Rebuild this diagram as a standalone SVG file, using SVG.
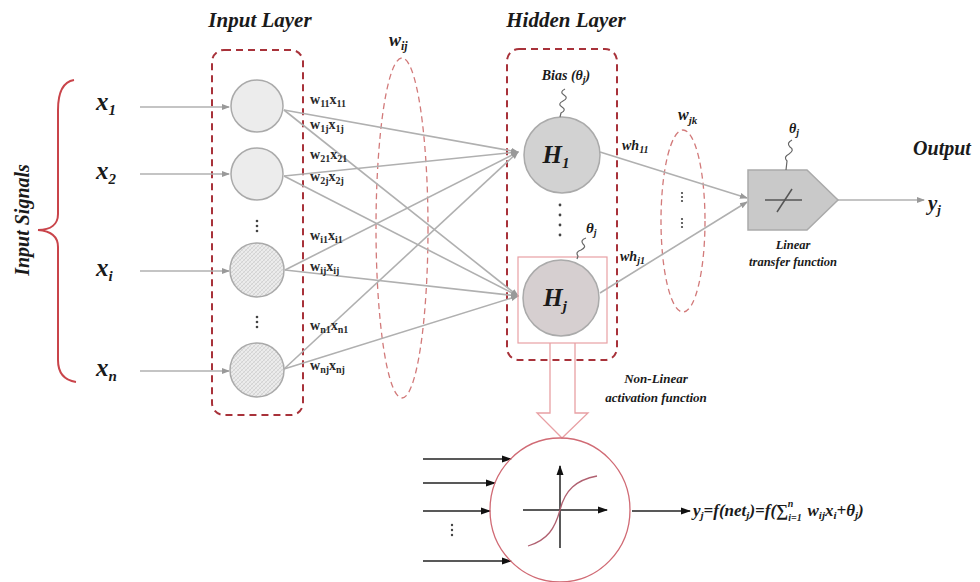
<svg xmlns="http://www.w3.org/2000/svg" width="980" height="582" viewBox="0 0 980 582">
<style>
.t{font-family:"Liberation Serif","Times New Roman",Times,"DejaVu Serif",serif;font-weight:bold;font-style:italic;fill:#1a1a1a}
.w{font-family:"Liberation Serif","Times New Roman",Times,"DejaVu Serif",serif;font-weight:bold;fill:#2a2a2a;font-size:14px}
.box{fill:none;stroke:#a8323a;stroke-width:2;stroke-dasharray:7,5}
.ell{fill:none;stroke:#d27a7a;stroke-width:1.3;stroke-dasharray:6,4}
.wire{stroke:#b0b0b0;stroke-width:1.6;fill:none}
.blk{stroke:#222;stroke-width:1.5;fill:none}
.sq{fill:none;stroke:#666;stroke-width:1.2}
.dot{fill:#444}
</style>
<defs>
<marker id="ag" markerWidth="8" markerHeight="8" refX="7" refY="4" orient="auto" markerUnits="userSpaceOnUse"><path d="M0,1 L8,4 L0,7 Z" fill="#999"/></marker>
<marker id="ab" markerWidth="10" markerHeight="8" refX="9" refY="4" orient="auto" markerUnits="userSpaceOnUse"><path d="M0,0.5 L10,4 L0,7.5 Z" fill="#111"/></marker>
<pattern id="hatch" width="4" height="4" patternUnits="userSpaceOnUse"><rect width="4" height="4" fill="#ececec"/><path d="M0,4 L4,0" stroke="#c8c8c8" stroke-width="0.7"/><path d="M0,0 L4,4" stroke="#d4d4d4" stroke-width="0.5"/></pattern>
</defs>

<!-- titles -->
<text class="t" x="260" y="27" font-size="21" text-anchor="middle">Input Layer</text>
<text class="t" x="566" y="27" font-size="21" text-anchor="middle">Hidden Layer</text>
<text class="t" x="942" y="155" font-size="20" text-anchor="middle">Output</text>
<text class="t" font-size="20" text-anchor="middle" transform="translate(29,220) rotate(-90)">Input Signals</text>

<!-- brace -->
<path d="M74,80 C62,82 58,94 58,110 L58,214 C58,224 51,230 38,230 C51,231 58,237 58,247 L58,360 C58,372 63,380 76,382" fill="none" stroke="#c9444a" stroke-width="2"/>

<!-- input labels -->
<g id="x1"><text class="t" x="96" y="110" font-size="25">x<tspan dy="5" font-size="15">1</tspan></text></g>
<g id="x2"><text class="t" x="96" y="179" font-size="25">x<tspan dy="5" font-size="15">2</tspan></text></g>
<g id="xi"><text class="t" x="96" y="276" font-size="25">x<tspan dy="5" font-size="15">i</tspan></text></g>
<g id="xn"><text class="t" x="96" y="376" font-size="25">x<tspan dy="5" font-size="15">n</tspan></text></g>

<!-- boxes and ellipses -->
<rect class="box" x="212" y="50" width="91" height="365" rx="12"/>
<rect class="box" x="507" y="49" width="110" height="311" rx="12"/>
<ellipse class="ell" cx="402" cy="228" rx="26" ry="170"/>
<ellipse class="ell" cx="683" cy="221" rx="22" ry="91"/>
<text class="t" x="389" y="46" font-size="18">w<tspan dy="4" font-size="12">ij</tspan></text>
<text class="t" x="678" y="120" font-size="16">w<tspan dy="4" font-size="11">jk</tspan></text>

<!-- connectors -->
<g id="connectors">
<line class="wire" x1="140" y1="107" x2="229" y2="107" marker-end="url(#ag)"/>
<line class="wire" x1="140" y1="174" x2="229" y2="174" marker-end="url(#ag)"/>
<line class="wire" x1="140" y1="271" x2="229" y2="271" marker-end="url(#ag)"/>
<line class="wire" x1="140" y1="371" x2="229" y2="371" marker-end="url(#ag)"/>
<line class="wire" x1="284" y1="110" x2="518" y2="152" marker-end="url(#ag)"/>
<line class="wire" x1="284" y1="110" x2="518" y2="296" marker-end="url(#ag)"/>
<line class="wire" x1="284" y1="176" x2="518" y2="152" marker-end="url(#ag)"/>
<line class="wire" x1="284" y1="176" x2="518" y2="296" marker-end="url(#ag)"/>
<line class="wire" x1="285" y1="270" x2="518" y2="152" marker-end="url(#ag)"/>
<line class="wire" x1="285" y1="270" x2="518" y2="296" marker-end="url(#ag)"/>
<line class="wire" x1="284" y1="369" x2="518" y2="152" marker-end="url(#ag)"/>
<line class="wire" x1="284" y1="369" x2="518" y2="296" marker-end="url(#ag)"/>
<line class="wire" x1="600" y1="152" x2="747" y2="198" marker-end="url(#ag)"/>
<line class="wire" x1="600" y1="293" x2="747" y2="202" marker-end="url(#ag)"/>
<line class="wire" x1="838" y1="200" x2="924" y2="200" marker-end="url(#ag)"/>
<line class="blk" x1="423" y1="459" x2="511" y2="459" marker-end="url(#ab)"/>
<line class="blk" x1="423" y1="483" x2="495" y2="483" marker-end="url(#ab)"/>
<line class="blk" x1="423" y1="511" x2="490" y2="511" marker-end="url(#ab)"/>
<line class="blk" x1="423" y1="561" x2="511" y2="561" marker-end="url(#ab)"/>
<line class="blk" x1="632" y1="511" x2="690" y2="511" marker-end="url(#ab)"/>
</g>

<!-- weight labels -->
<g id="weights">
<text class="w" x="310" y="104">w<tspan dy="3" font-size="10">11</tspan><tspan dy="-3">x</tspan><tspan dy="3" font-size="10">11</tspan></text>
<text class="w" x="310" y="129">w<tspan dy="3" font-size="10">1j</tspan><tspan dy="-3">x</tspan><tspan dy="3" font-size="10">1j</tspan></text>
<text class="w" x="310" y="159">w<tspan dy="3" font-size="10">21</tspan><tspan dy="-3">x</tspan><tspan dy="3" font-size="10">21</tspan></text>
<text class="w" x="310" y="181">w<tspan dy="3" font-size="10">2j</tspan><tspan dy="-3">x</tspan><tspan dy="3" font-size="10">2j</tspan></text>
<text class="w" x="310" y="240">w<tspan dy="3" font-size="10">i1</tspan><tspan dy="-3">x</tspan><tspan dy="3" font-size="10">i1</tspan></text>
<text class="w" x="310" y="271">w<tspan dy="3" font-size="10">ij</tspan><tspan dy="-3">x</tspan><tspan dy="3" font-size="10">ij</tspan></text>
<text class="w" x="310" y="330">w<tspan dy="3" font-size="10">n1</tspan><tspan dy="-3">x</tspan><tspan dy="3" font-size="10">n1</tspan></text>
<text class="w" x="310" y="370">w<tspan dy="3" font-size="10">nj</tspan><tspan dy="-3">x</tspan><tspan dy="3" font-size="10">nj</tspan></text>
<text class="t" x="622" y="150" font-size="14">wh<tspan dy="3" font-size="10">11</tspan></text>
<text class="t" x="620" y="261" font-size="14">wh<tspan dy="3" font-size="10">j1</tspan></text>
</g>

<!-- input neurons -->
<g id="in1"><circle cx="257" cy="106" r="26" fill="#ececec" stroke="#aaa" stroke-width="1.5"/></g>
<g id="in2"><circle cx="257" cy="174" r="26" fill="#ececec" stroke="#aaa" stroke-width="1.5"/></g>
<g id="ini"><circle cx="257" cy="270" r="27" fill="url(#hatch)" stroke="#aaa" stroke-width="1.5"/></g>
<g id="inn"><circle cx="257" cy="370" r="27" fill="url(#hatch)" stroke="#aaa" stroke-width="1.5"/></g>
<g id="dots-in">
<circle class="dot" cx="257" cy="221" r="1.3"/><circle class="dot" cx="257" cy="226" r="1.3"/><circle class="dot" cx="257" cy="231" r="1.3"/>
<circle class="dot" cx="257" cy="317" r="1.3"/><circle class="dot" cx="257" cy="322" r="1.3"/><circle class="dot" cx="257" cy="327" r="1.3"/>
</g>

<!-- hidden neurons -->
<g id="h1">
<circle cx="562" cy="155" r="38" fill="#d2d2d2" stroke="#aaa" stroke-width="1.5"/>
<text class="t" x="556" y="163" font-size="25" text-anchor="middle">H<tspan dy="5" font-size="15">1</tspan></text>
<text class="t" x="566" y="80" font-size="14" text-anchor="middle">Bias (θ<tspan dy="3" font-size="10">j</tspan><tspan dy="-3">)</tspan></text>
<path class="sq" d="M565,89 q-6,3 -1,6 q5,3 -1,6 q-6,3 -1,6 q5,3 -1,6 l-1,4"/>
</g>
<g id="dots-h">
<circle class="dot" cx="560" cy="205" r="1.4"/><circle class="dot" cx="560" cy="215" r="1.4"/><circle class="dot" cx="560" cy="225" r="1.4"/><circle class="dot" cx="560" cy="235" r="1.4"/>
<circle class="dot" cx="682" cy="193" r="1.1"/><circle class="dot" cx="682" cy="197" r="1.1"/><circle class="dot" cx="682" cy="201" r="1.1"/>
<circle class="dot" cx="682" cy="219" r="1.1"/><circle class="dot" cx="682" cy="223" r="1.1"/><circle class="dot" cx="682" cy="227" r="1.1"/>
</g>
<g id="hj">
<rect x="518" y="257" width="89" height="86" fill="none" stroke="#e8a0a4" stroke-width="1.2"/>
<circle cx="561" cy="298" r="38" fill="#d6cfd0" stroke="#aaa" stroke-width="1.5"/>
<text class="t" x="555" y="306" font-size="25" text-anchor="middle">H<tspan dy="5" font-size="15">j</tspan></text>
<text class="t" x="586" y="233" font-size="15">θ<tspan dy="3" font-size="10">j</tspan></text>
<path class="sq" d="M586,238 q-6,2 -3,6 q4,3 -2,6 q-6,2 -3,6 l-1,3"/>
</g>

<!-- output neuron -->
<g id="out">
<polygon points="748,170 807,170 838,200 807,230 748,230" fill="#c9c9c9" stroke="#aaa" stroke-width="1.5"/>
<line x1="765" y1="200" x2="802" y2="200" stroke="#555" stroke-width="1.5"/>
<line x1="777" y1="212" x2="792" y2="189" stroke="#555" stroke-width="1.5"/>
<text class="t" x="789" y="133" font-size="14">θ<tspan dy="3" font-size="10">j</tspan></text>
<path class="sq" d="M792,140 q-6,3 -2,7 q5,3 -1,7 q-6,3 -2,7 l-1,9"/>
<text class="t" x="793" y="249" font-size="12.5" text-anchor="middle">Linear</text>
<text class="t" x="793" y="266" font-size="12.5" text-anchor="middle">transfer function</text>
<text class="t" x="928" y="210" font-size="21">y<tspan dy="4" font-size="13">j</tspan></text>
</g>

<!-- activation detail -->
<g id="activation">
<path d="M550,343 L550,413 L537,413 L562,438 L588,413 L575,413 L575,343" fill="none" stroke="#e8a0a4" stroke-width="1.3"/>
<text class="t" x="656" y="383" font-size="13" text-anchor="middle">Non-Linear</text>
<text class="t" x="656" y="402" font-size="13" text-anchor="middle">activation function</text>
<ellipse cx="560" cy="510" rx="70" ry="72" fill="none" stroke="#d06a74" stroke-width="1.3"/>
<line class="blk" x1="560" y1="548" x2="560" y2="466" marker-end="url(#ab)" stroke-width="1.2"/>
<line class="blk" x1="523" y1="510" x2="607" y2="510" marker-end="url(#ab)" stroke-width="1.2"/>
<path d="M528,546 C548,540 555,528 560,510 C565,490 576,480 597,476" fill="none" stroke="#b06070" stroke-width="1.3"/>
<circle class="dot" cx="452" cy="525" r="1.2"/><circle class="dot" cx="452" cy="530" r="1.2"/><circle class="dot" cx="452" cy="535" r="1.2"/>
<text class="t" x="693" y="516" font-size="17">y<tspan dy="3" font-size="11">j</tspan><tspan dy="-3">=f(net</tspan><tspan dy="3" font-size="11">j</tspan><tspan dy="-3">)=f(∑</tspan><tspan dy="5" font-size="10">i=1</tspan><tspan dx="-14" dy="-14" font-size="10">n</tspan><tspan dx="10" dy="9"> w</tspan><tspan dy="3" font-size="11">ij</tspan><tspan dy="-3">x</tspan><tspan dy="3" font-size="11">i</tspan><tspan dy="-3">+θ</tspan><tspan dy="3" font-size="11">j</tspan><tspan dy="-3">)</tspan></text>
</g>
</svg>
